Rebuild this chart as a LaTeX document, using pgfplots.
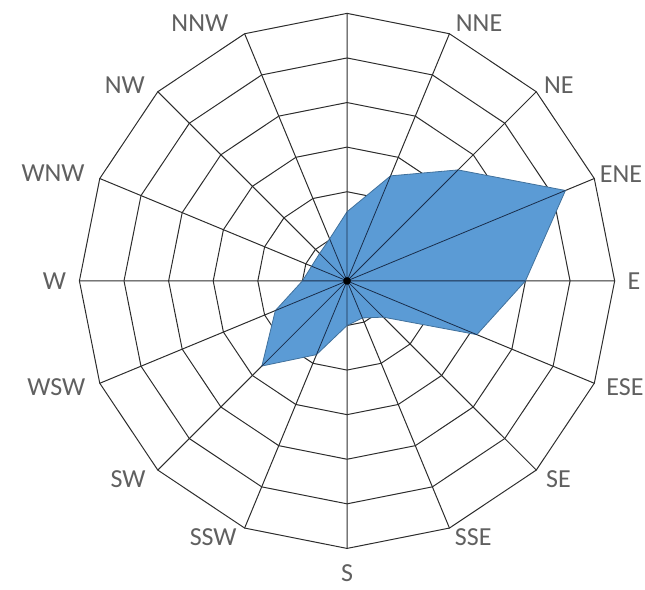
\documentclass[border=0pt]{standalone}
\usepackage{fontspec}
\setmainfont{Carlito}
\usepackage{pgfplots}
\pgfplotsset{compat=1.18}
\definecolor{fillblue}{RGB}{91,155,213}
\definecolor{edgeblue}{RGB}{65,113,156}
\definecolor{spoke}{RGB}{25,45,75}
\definecolor{gridc}{RGB}{45,45,45}
\definecolor{lbl}{RGB}{96,96,96}
\begin{document}
\begin{tikzpicture}[lab/.style={font=\fontsize{26}{28}\selectfont, text=lbl, inner sep=0pt}]
\begin{axis}[
  width=645pt, height=589pt, scale only axis,
  xmin=-7.78, xmax=6.68, ymin=-6.91, ymax=6.30,
  axis lines=none, clip=false,
  data cs=polar,
  grid line/.style={gridc, line width=1pt, line join=round},
]
% rings
\pgfplotsinvokeforeach{1,...,6}{
  \addplot[grid line] coordinates {(90,#1) (67.5,#1) (45,#1) (22.5,#1) (0,#1) (-22.5,#1) (-45,#1) (-67.5,#1)
    (-90,#1) (-112.5,#1) (-135,#1) (-157.5,#1) (180,#1) (157.5,#1) (135,#1) (112.5,#1) (90,#1)};
}
% grid spokes
\addplot[grid line] coordinates {(0,0) (90,6) (0,0) (67.5,6) (0,0) (45,6) (0,0) (22.5,6) (0,0) (0,6)
  (0,0) (-22.5,6) (0,0) (-45,6) (0,0) (-67.5,6) (0,0) (-90,6) (0,0) (-112.5,6) (0,0) (-135,6)
  (0,0) (-157.5,6) (0,0) (180,6) (0,0) (157.5,6) (0,0) (135,6) (0,0) (112.5,6)};
% series: N NNE NE ENE E ESE SE SSE S SSW SW WSW W WNW NW NNW
\addplot[fill=fillblue, draw=edgeblue, line width=0.8pt, line join=round] coordinates {
  (90,1.55) (67.5,2.55) (45,3.52) (22.5,5.30) (0,4.0) (-22.5,3.15) (-45,1.15) (-67.5,0.9)
  (-90,1.0) (-112.5,1.79) (-135,2.70) (-157.5,1.74) (180,1.0) (157.5,0.86) (135,0.87) (112.5,1.02)} -- cycle;
% spokes over the fill
\addplot[spoke, line width=0.8pt] coordinates {
  (0,0) (90,1.55) (0,0) (67.5,2.55) (0,0) (45,3.52) (0,0) (22.5,5.30) (0,0) (0,4.0) (0,0) (-22.5,3.15)
  (0,0) (-45,1.15) (0,0) (-67.5,0.9) (0,0) (-90,1.0) (0,0) (-112.5,1.79) (0,0) (-135,2.70)
  (0,0) (-157.5,1.74) (0,0) (180,1.0) (0,0) (157.5,0.86) (0,0) (135,0.87) (0,0) (112.5,1.02)};
\addplot[only marks, mark=*, mark size=3.5pt, black] coordinates {(0,0)};
% category labels
\node[lab] at (axis cs:2.96,5.77) {NNE};
\node[lab] at (axis cs:4.75,4.38) {NE};
\node[lab, anchor=east] at (axis cs:6.62,2.40) {ENE};
\node[lab] at (axis cs:6.43,0) {E};
\node[lab, anchor=east] at (axis cs:6.65,-2.38) {ESE};
\node[lab] at (axis cs:4.74,-4.44) {SE};
\node[lab] at (axis cs:2.83,-5.75) {SSE};
\node[lab] at (axis cs:0,-6.55) {S};
\node[lab] at (axis cs:-3.0,-5.75) {SSW};
\node[lab] at (axis cs:-4.91,-4.44) {SW};
\node[lab] at (axis cs:-6.52,-2.38) {WSW};
\node[lab] at (axis cs:-6.56,0) {W};
\node[lab] at (axis cs:-6.59,2.42) {WNW};
\node[lab] at (axis cs:-4.98,4.39) {NW};
\node[lab] at (axis cs:-3.3,5.77) {NNW};
\coordinate (bl) at (rel axis cs:0,0);
\coordinate (tr) at (rel axis cs:1,1);
\end{axis}
\pgfresetboundingbox
\path[use as bounding box] (bl) rectangle (tr);
\end{tikzpicture}
\end{document}
